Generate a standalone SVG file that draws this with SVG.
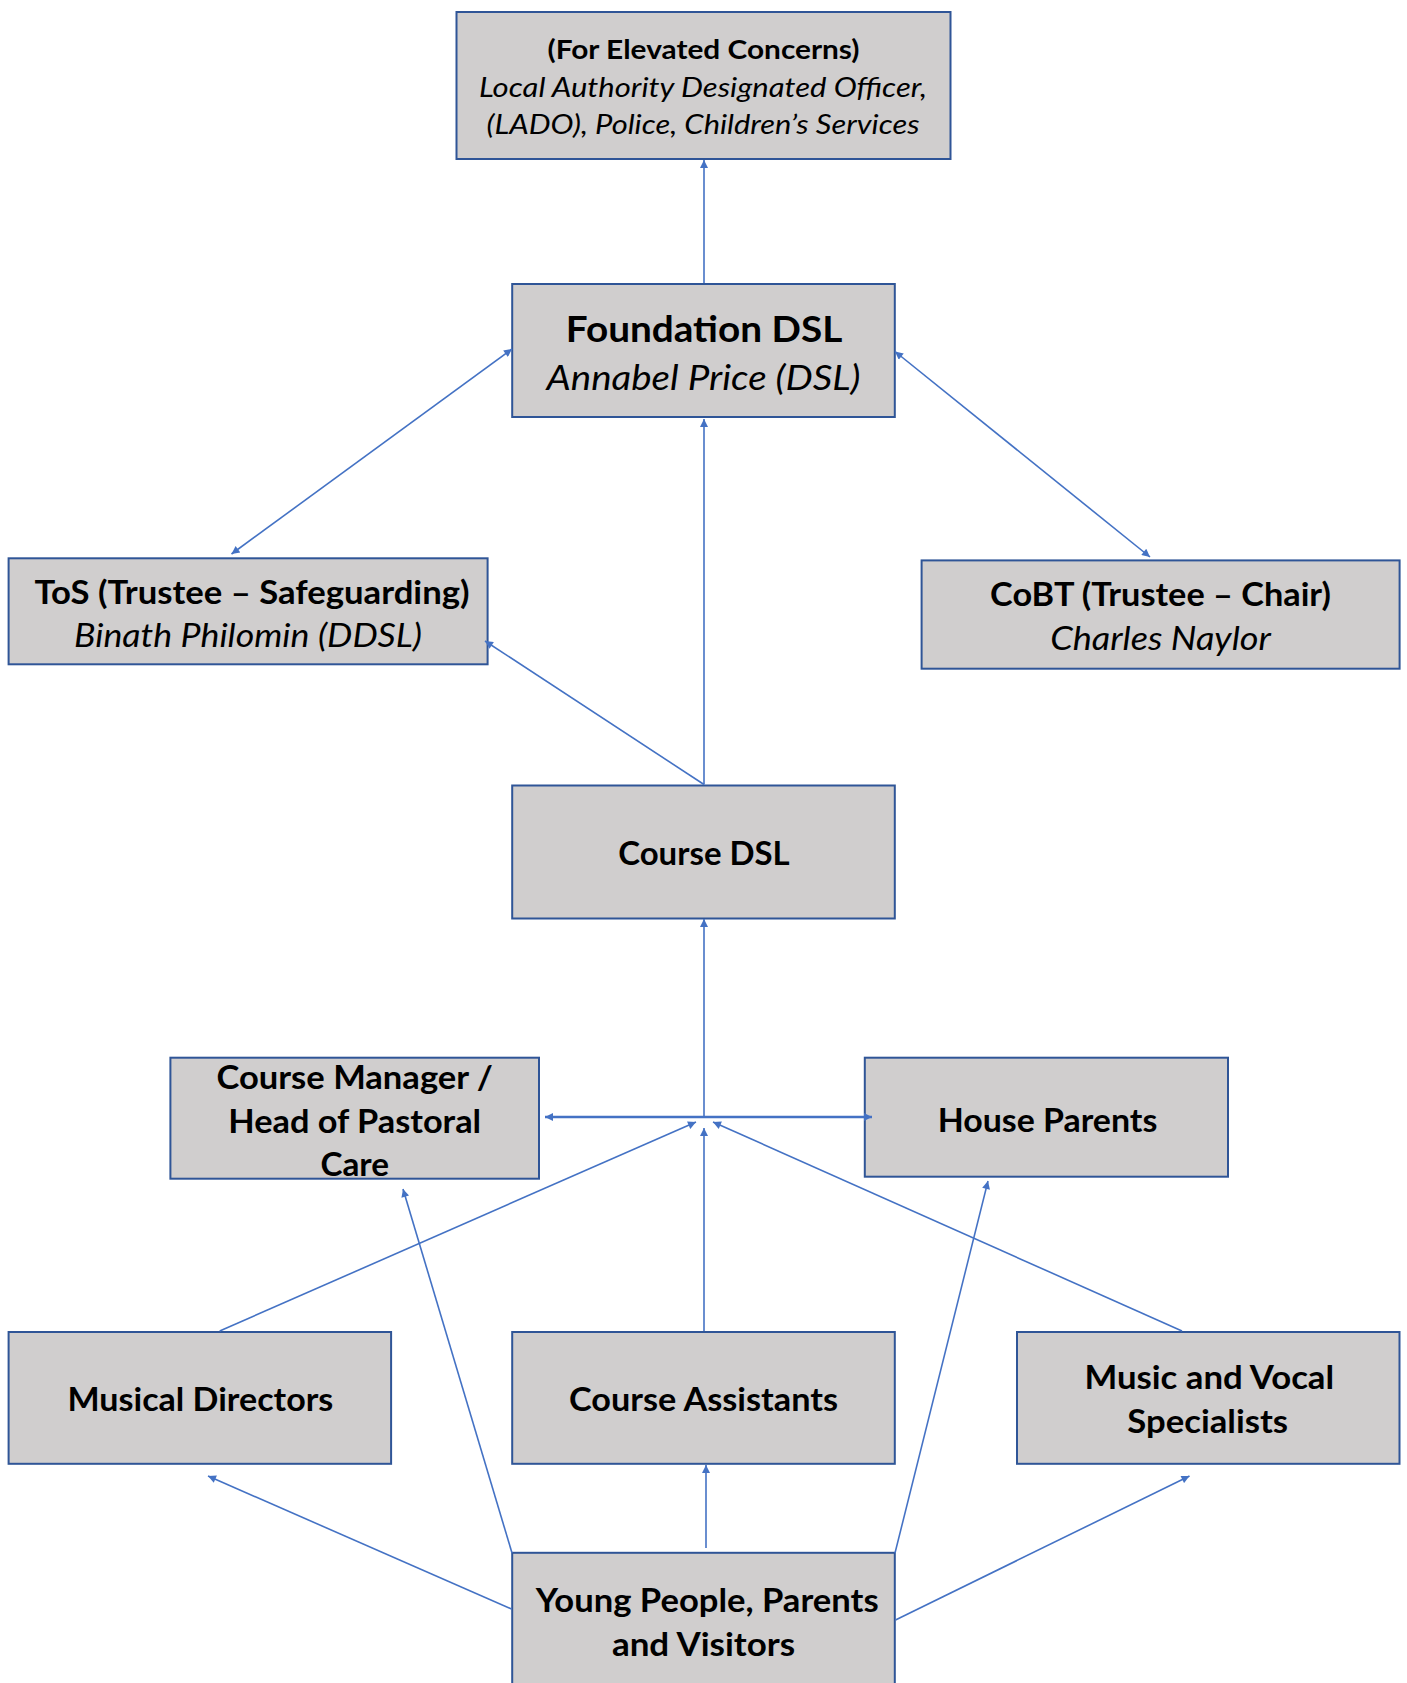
<svg xmlns="http://www.w3.org/2000/svg" width="1407" height="1683" viewBox="0 0 1407 1683">
<style>
.box{fill:#d0cece;stroke:#2f5597;stroke-width:2}
.t{font-family:Lato,"Open Sans","DejaVu Sans",sans-serif;fill:#000;text-anchor:middle}
.b{font-weight:bold;font-size:33px}
.i{font-style:italic;font-size:33px}
.c{stroke:#4472c4;stroke-width:1.6;fill:none}
</style>
<defs>
<marker id="ah" viewBox="0 0 10 10" refX="10" refY="5" markerWidth="10" markerHeight="8" markerUnits="userSpaceOnUse" orient="auto-start-reverse">
<path d="M0,0 L10,5 L0,10 z" fill="#4472c4"/>
</marker>
</defs>
<rect width="1407" height="1683" fill="#ffffff"/>
<g id="elevated">
<rect class="box" x="456.5" y="12" width="494" height="147"/>
<text class="t" x="703.5" y="58.5" style="font-weight:bold;font-size:27.5px" textLength="312" lengthAdjust="spacingAndGlyphs">(For Elevated Concerns)</text>
<text class="t" x="703" y="97" style="font-style:italic;font-size:27.5px" textLength="448" lengthAdjust="spacingAndGlyphs">Local Authority Designated Officer,</text>
<text class="t" x="703" y="134" style="font-style:italic;font-size:27.5px" textLength="433" lengthAdjust="spacingAndGlyphs">(LADO), Police, Children’s Services</text>
</g>
<g id="foundation">
<rect class="box" x="512.2" y="284" width="382.6" height="133"/>
<text class="t" x="704" y="342" style="font-weight:bold;font-size:37px" textLength="276.5" lengthAdjust="spacingAndGlyphs">Foundation DSL</text>
<text class="t" x="703.5" y="390" style="font-style:italic;font-size:35px" textLength="314" lengthAdjust="spacingAndGlyphs">Annabel Price (DSL)</text>
</g>
<g id="tos">
<rect class="box" x="8.6" y="558.3" width="479" height="106"/>
<text class="t b" x="252" y="603.5" textLength="435" lengthAdjust="spacingAndGlyphs">ToS (Trustee – Safeguarding)</text>
<text class="t i" x="248" y="647" textLength="348" lengthAdjust="spacingAndGlyphs">Binath Philomin (DDSL)</text>
</g>
<g id="cobt">
<rect class="box" x="921.6" y="560.4" width="478" height="108.3"/>
<text class="t b" x="1160.5" y="605.5" textLength="340.8" lengthAdjust="spacingAndGlyphs">CoBT (Trustee – Chair)</text>
<text class="t i" x="1160.5" y="650" textLength="220.7" lengthAdjust="spacingAndGlyphs">Charles Naylor</text>
</g>
<g id="course-dsl">
<rect class="box" x="512.2" y="785.5" width="382.6" height="133"/>
<text class="t b" x="704" y="865" textLength="171.5" lengthAdjust="spacingAndGlyphs">Course DSL</text>
</g>
<g id="course-manager">
<rect class="box" x="170.4" y="1057.7" width="368.6" height="121"/>
<text class="t b" x="354.7" y="1089" textLength="276.5" lengthAdjust="spacingAndGlyphs">Course Manager /</text>
<text class="t b" x="354.7" y="1133" textLength="252.9" lengthAdjust="spacingAndGlyphs">Head of Pastoral</text>
<text class="t b" x="354.7" y="1176" textLength="68.6" lengthAdjust="spacingAndGlyphs">Care</text>
</g>
<g id="house-parents">
<rect class="box" x="864.8" y="1057.7" width="363.2" height="119"/>
<text class="t b" x="1047.5" y="1131.5" textLength="219.7" lengthAdjust="spacingAndGlyphs">House Parents</text>
</g>
<g id="musical-directors">
<rect class="box" x="8.6" y="1332" width="382.5" height="131.8"/>
<text class="t b" x="200.4" y="1410.5" textLength="265.8" lengthAdjust="spacingAndGlyphs">Musical Directors</text>
</g>
<g id="course-assistants">
<rect class="box" x="512.2" y="1332" width="382.6" height="131.8"/>
<text class="t b" x="703.5" y="1410.5" textLength="269" lengthAdjust="spacingAndGlyphs">Course Assistants</text>
</g>
<g id="music-vocal">
<rect class="box" x="1017" y="1332" width="382.5" height="131.8"/>
<text class="t b" x="1209.3" y="1389" textLength="249.7" lengthAdjust="spacingAndGlyphs">Music and Vocal</text>
<text class="t b" x="1207.7" y="1433" textLength="160.7" lengthAdjust="spacingAndGlyphs">Specialists</text>
</g>
<g id="young-people">
<rect class="box" x="512.2" y="1552.8" width="382.6" height="150"/>
<text class="t b" x="707.2" y="1612" textLength="342.9" lengthAdjust="spacingAndGlyphs">Young People, Parents</text>
<text class="t b" x="703.5" y="1656" textLength="183.2" lengthAdjust="spacingAndGlyphs">and Visitors</text>
</g>
<g id="connectors">
<line class="c" x1="704" y1="283" x2="704" y2="160" marker-end="url(#ah)"/>
<line class="c" x1="231.5" y1="554" x2="512" y2="349" marker-start="url(#ah)" marker-end="url(#ah)"/>
<line class="c" x1="1150" y1="557" x2="895" y2="351.5" marker-start="url(#ah)" marker-end="url(#ah)"/>
<line class="c" x1="704" y1="784.5" x2="704" y2="419" marker-end="url(#ah)"/>
<line class="c" x1="704" y1="784.5" x2="485" y2="641" marker-end="url(#ah)"/>
<line class="c" x1="704" y1="1117" x2="704" y2="919" marker-end="url(#ah)"/>
<line class="c" x1="545" y1="1117" x2="872" y2="1117" style="stroke-width:2.6" marker-start="url(#ah)" marker-end="url(#ah)"/>
<line class="c" x1="219.7" y1="1331" x2="696" y2="1122" marker-end="url(#ah)"/>
<line class="c" x1="704" y1="1331" x2="704" y2="1128" marker-end="url(#ah)"/>
<line class="c" x1="1182" y1="1331" x2="713" y2="1122" marker-end="url(#ah)"/>
<line class="c" x1="512" y1="1553" x2="403" y2="1189" marker-end="url(#ah)"/>
<line class="c" x1="511.5" y1="1609" x2="208" y2="1476" marker-end="url(#ah)"/>
<line class="c" x1="706" y1="1548" x2="706" y2="1465" marker-end="url(#ah)"/>
<line class="c" x1="895" y1="1553" x2="988" y2="1181" marker-end="url(#ah)"/>
<line class="c" x1="895.5" y1="1620" x2="1189.5" y2="1476" marker-end="url(#ah)"/>
</g>
</svg>
